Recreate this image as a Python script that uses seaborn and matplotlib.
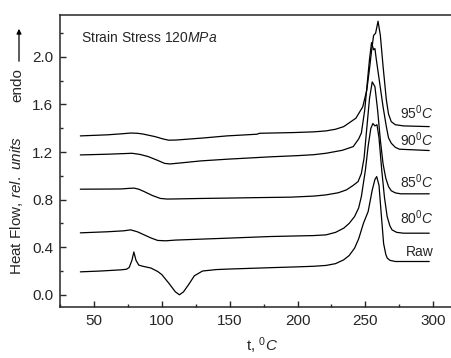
import numpy as np
import pandas as pd
import matplotlib
matplotlib.use("Agg")
import matplotlib.pyplot as plt
import seaborn as sns

# curves: temperature (C) and heat flow (rel. units)
raw_t = [40, 55, 70, 74, 76, 78, 79.4, 81, 83, 86, 92, 97, 100, 105, 110, 113, 116, 120,
         124, 130, 140, 148, 180, 200, 212, 221, 228, 234, 238, 242, 245, 248.5, 252, 255,
         257, 258.3, 260, 261.5, 263.4, 265, 266, 268, 272, 297]
raw_hf = [0.193, 0.20, 0.21, 0.215, 0.23, 0.29, 0.36, 0.29, 0.25, 0.24, 0.225, 0.196, 0.17,
          0.10, 0.025, 0.0, 0.025, 0.09, 0.16, 0.20, 0.212, 0.216, 0.228, 0.235, 0.24,
          0.247, 0.262, 0.294, 0.33, 0.392, 0.47, 0.60, 0.70, 0.88, 0.97, 0.994, 0.92,
          0.70, 0.43, 0.34, 0.31, 0.29, 0.28, 0.28]

t80 = [40, 60, 72, 77, 82, 87, 92, 97, 103, 110, 129, 148, 180, 200, 212, 221, 228, 234,
       238, 242, 245, 247, 250, 252, 254, 255.5, 257, 258.5, 260, 262, 264, 266, 268, 269.6,
       273, 278, 297]
hf80 = [0.521, 0.53, 0.538, 0.546, 0.53, 0.504, 0.478, 0.457, 0.454, 0.46, 0.468, 0.476,
        0.49, 0.495, 0.498, 0.504, 0.525, 0.56, 0.60, 0.658, 0.73, 0.826, 1.05, 1.25, 1.40,
        1.44, 1.42, 1.43, 1.32, 1.05, 0.82, 0.658, 0.58, 0.546, 0.525, 0.518, 0.518]

t85 = [40, 60, 70, 76, 79.5, 83, 87, 93, 99, 104, 110, 129, 148, 170, 195, 212, 221, 230,
       236, 241, 244.6, 247, 249, 251, 253, 255, 257, 259, 261, 263, 265, 267, 269, 272,
       276, 297]
hf85 = [0.888, 0.889, 0.89, 0.895, 0.897, 0.888, 0.868, 0.835, 0.81, 0.805, 0.806, 0.81,
        0.813, 0.817, 0.821, 0.83, 0.84, 0.858, 0.882, 0.92, 0.952, 1.02, 1.15, 1.40, 1.65,
        1.79, 1.75, 1.55, 1.30, 1.10, 0.98, 0.91, 0.875, 0.857, 0.849, 0.849]

t90 = [40, 60, 74, 78, 84, 90, 97, 102, 106, 115, 129, 148, 180, 200, 212, 221, 233, 241,
       245, 247, 249.5, 251.5, 253, 254.5, 256, 257, 258, 260.5, 263, 265.4, 267, 269, 272,
       275, 297]
hf90 = [1.176, 1.182, 1.188, 1.19, 1.18, 1.162, 1.13, 1.105, 1.10, 1.11, 1.126, 1.14, 1.16,
        1.17, 1.178, 1.19, 1.215, 1.246, 1.31, 1.36, 1.555, 1.80, 1.98, 2.12, 2.06, 2.07,
        1.98, 1.78, 1.58, 1.414, 1.32, 1.275, 1.24, 1.224, 1.213]

t95 = [40, 60, 72, 77, 82, 86, 95, 101, 105, 110, 115, 130, 148, 170, 172, 197, 212, 221,
       228, 234, 243, 248, 251, 253, 254.5, 256, 257.5, 259.3, 261, 263, 265.4, 267, 269,
       272, 278, 297]
hf95 = [1.336, 1.345, 1.355, 1.36, 1.358, 1.352, 1.33, 1.31, 1.30, 1.301, 1.305, 1.318,
        1.336, 1.350, 1.358, 1.364, 1.37, 1.378, 1.392, 1.414, 1.485, 1.58, 1.72, 1.90, 2.05,
        2.18, 2.20, 2.30, 2.18, 1.92, 1.64, 1.52, 1.456, 1.43, 1.42, 1.414]

curves = [(raw_t, raw_hf), (t80, hf80), (t85, hf85), (t90, hf90), (t95, hf95)]

labels = ["Raw", "80$^{\\mathit{0}}\\mathit{C}$", "85$^{\\mathit{0}}\\mathit{C}$",
          "90$^{\\mathit{0}}\\mathit{C}$", "95$^{\\mathit{0}}\\mathit{C}$"]
label_y = [0.361, 0.647, 0.952, 1.30, 1.53]

sns.set_style("ticks")
plt.rcParams['font.family'] = ['Liberation Sans', 'DejaVu Sans']
plt.rcParams['mathtext.fontset'] = 'custom'
plt.rcParams['mathtext.rm'] = 'Liberation Sans'
plt.rcParams['mathtext.it'] = 'Liberation Sans:italic'

fig = plt.figure(figsize=(4.52, 3.58), dpi=100)
ax = fig.add_axes([0.1327, 0.1433, 0.874, 0.815])

for t, hf in curves:
    sns.lineplot(x=t, y=hf, ax=ax, color="black", linewidth=0.9, sort=False)

for lab, yy in zip(labels, label_y):
    ax.text(300, yy, lab, ha="right", va="center", fontsize=10)

ax.text(40.5, 2.165, "Strain Stress 120$\\mathit{MPa}$", ha="left", va="center", fontsize=10)

ax.set_xlim(25.7, 316)
ax.set_ylim(-0.1, 2.353)
ax.set_xticks([50, 100, 150, 200, 250, 300])
ax.set_xticks(np.arange(25, 316, 25), minor=True)
ax.set_yticks([0.0, 0.4, 0.8, 1.2, 1.6, 2.0])
ax.set_yticks(np.arange(0.0, 2.35, 0.2), minor=True)
ax.set_yticklabels(["0.0", "0.4", "0.8", "1.2", "1.6", "2.0"])
ax.tick_params(which="major", direction="in", length=4.5, width=1, labelsize=11, pad=5)
ax.tick_params(which="minor", direction="in", length=2.5, width=1)
for s in ["top", "bottom", "left"]:
    ax.spines[s].set_linewidth(1.1)
ax.spines["right"].set_visible(False)
ax.set_xlabel("")
ax.set_ylabel("")

fig.text(262 / 452, 1 - 346 / 358, "t, $^{\\mathit{0}}\\mathit{C}$", ha="center", va="center", fontsize=11)
fig.text(17 / 452, 1 - 206 / 358, "Heat Flow, $\\mathit{rel.\\ units}$", rotation=90,
         ha="center", va="center", fontsize=11)
fig.text(17 / 452, 1 - 85 / 358, "endo", rotation=90, ha="center", va="center", fontsize=11)
fig.patches.append(matplotlib.patches.FancyArrowPatch(
    (19 / 452, 1 - 64 / 358), (19 / 452, 1 - 26 / 358), transform=fig.transFigure,
    arrowstyle="-|>", mutation_scale=7, color="black", linewidth=0.9))

fig.savefig("out.png", dpi=100)
